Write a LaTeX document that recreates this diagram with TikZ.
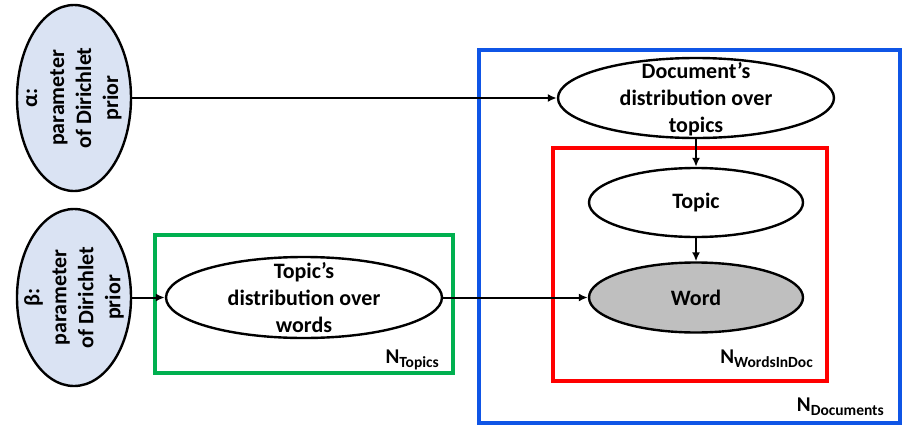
\documentclass[tikz,border=0pt]{standalone}
\usepackage{fontspec}
\setmainfont{Carlito}
\usetikzlibrary{shapes.geometric,arrows.meta}
\definecolor{priorblue}{HTML}{DAE3F3}
\definecolor{wordgray}{HTML}{BFBFBF}
\definecolor{plateblue}{HTML}{0F55E6}
\definecolor{platered}{HTML}{FF0000}
\definecolor{plategreen}{HTML}{00B050}
\newcommand{\platename}[1]{{\fontsize{21}{24}\selectfont N}{\fontsize{15.5}{17}\selectfont\raisebox{-4.5pt}{#1}}}
\begin{document}
\begin{tikzpicture}[x=1pt,y=-1pt,
  ell/.style={ellipse, draw=black, line width=2.4pt, inner sep=0pt},
  prior/.style={ell, fill=priorblue},
  txt/.style={font=\bfseries\fontsize{22}{27}\selectfont, align=center, inner sep=0pt},
  arr/.style={line width=2pt, -{Latex[length=9pt,width=8pt]}},
  plate/.style={line width=4.5pt},
  platelab/.style={anchor=base east, inner sep=0pt, font=\bfseries}
]
\useasboundingbox (0,0) rectangle (906,426);

% plates
\draw[plate, draw=plateblue] (479,50) rectangle (900,423);
\draw[plate, draw=platered] (553,148) rectangle (827,381);
\draw[plate, draw=plategreen] (155,235) rectangle (453,373);

% prior nodes
\node[prior, minimum width=114, minimum height=186] (alpha) at (74,98) {};
\node[txt, rotate=90] (alphat) at (alpha.center) {α:\\parameter\\of Dirichlet\\prior};
\node[prior, minimum width=114, minimum height=177] (beta) at (74,297.5) {};
\node[txt, rotate=90] (betat) at (beta.center) {β:\\parameter\\of Dirichlet\\prior};

% distribution nodes
\node[ell, fill=white, minimum width=276, minimum height=80] (doc) at (696,98) {};
\node[txt] (doct) at (696,99) {Document’s\\distribution over\\topics};
\node[ell, fill=white, minimum width=276, minimum height=81] (tdist) at (304,297.5) {};
\node[txt] (tdistt) at (tdist.center) {Topic’s\\distribution over\\words};
\node[ell, fill=white, minimum width=214, minimum height=69] (topic) at (696,202.5) {};
\node[txt] (topict) at (topic.center) {Topic};
\node[ell, fill=wordgray, minimum width=214, minimum height=70] (word) at (696,297.5) {};
\node[txt] (wordt) at (word.center) {Word};

% plate labels
\node[platelab] (ndoc) at (884,411) {\platename{Documents}};
\node[platelab] (nwid) at (813,363) {\platename{WordsInDoc}};
\node[platelab] (ntop) at (439,363) {\platename{Topics}};

% connectors
\draw[arr] (alpha.east) -- (doc.west);
\draw[arr] (beta.east) -- (tdist.west);
\draw[arr] (tdist.east) -- (word.west);
\draw[arr] (doc.south) -- (topic.north);
\draw[arr] (topic.south) -- (word.north);
\end{tikzpicture}
\end{document}
